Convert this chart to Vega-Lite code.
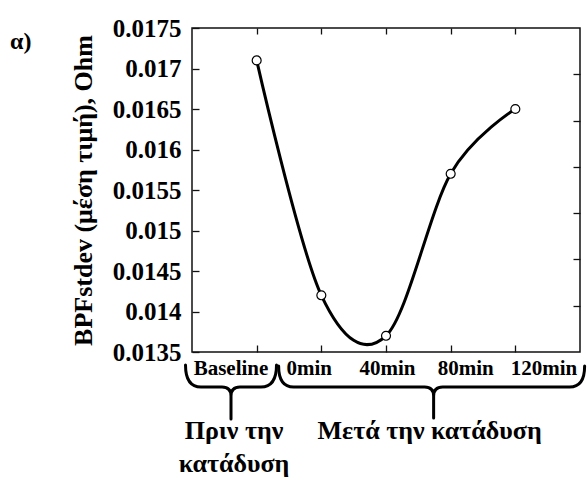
{
  "$schema": "https://vega.github.io/schema/vega-lite/v6.json",
  "width": 388,
  "height": 324,
  "autosize": {"type": "none"},
  "padding": {"left": 192, "top": 28, "right": 7, "bottom": 127},
  "background": "white",
  "title": {"text": "α)", "anchor": "start", "frame": "group", "orient": "top", "dx": -182, "dy": 42, "font": "Liberation Serif", "fontSize": 24, "fontWeight": "bold", "color": "black"},
  "config": {"view": {"stroke": "#111", "strokeWidth": 1.5}, "font": "Liberation Serif"},
  "data": {"values": [
    {"time": "Baseline", "idx": 1, "value": 0.0171, "phase": "Πριν την\nκατάδυση"},
    {"time": "0min", "idx": 2, "value": 0.0142, "phase": "Μετά την κατάδυση"},
    {"time": "40min", "idx": 3, "value": 0.0137, "phase": "Μετά την κατάδυση"},
    {"time": "80min", "idx": 4, "value": 0.0157, "phase": "Μετά την κατάδυση"},
    {"time": "120min", "idx": 5, "value": 0.0165, "phase": "Μετά την κατάδυση"}
  ]},
  "resolve": {"scale": {"x": "independent"}, "axis": {"x": "independent", "y": "independent"}},
  "layer": [
    {
      "mark": {"type": "line", "interpolate": "cardinal", "color": "black", "strokeWidth": 3},
      "encoding": {
        "x": {"field": "idx", "type": "quantitative", "scale": {"domain": [0, 6], "nice": false, "zero": false},
          "axis": {"orient": "bottom", "values": [1, 2, 3, 4, 5], "labels": false, "domain": false, "grid": false, "tickSize": -7, "tickColor": "#111", "tickWidth": 1.3, "title": null}},
        "y": {"field": "value", "type": "quantitative", "scale": {"domain": [0.0135, 0.0175], "nice": false, "zero": false},
          "axis": {"orient": "left", "values": [0.0135, 0.014, 0.0145, 0.015, 0.0155, 0.016, 0.0165, 0.017, 0.0175], "format": "~g",
            "labelFont": "Liberation Serif", "labelFontWeight": "bold", "labelFontSize": 25, "labelColor": "black", "labelPadding": 18,
            "tickSize": -7, "tickColor": "#111", "tickWidth": 1.3, "domain": false, "grid": false,
            "title": "BPFstdev (μέση τιμή), Ohm", "titleFont": "Liberation Serif", "titleFontSize": 26, "titleFontWeight": "bold", "titleColor": "black", "titlePadding": 16}}
      }
    },
    {
      "mark": {"type": "point", "filled": true, "fill": "white", "stroke": "black", "strokeWidth": 1.2, "size": 80, "opacity": 1},
      "encoding": {
        "x": {"field": "idx", "type": "quantitative", "scale": {"domain": [0, 6], "nice": false, "zero": false},
          "axis": {"orient": "top", "values": [1, 2, 3, 4, 5], "labels": false, "domain": false, "grid": false, "tickSize": -6, "tickColor": "#111", "tickWidth": 1.3, "title": null}},
        "y": {"field": "value", "type": "quantitative", "scale": {"domain": [0.0135, 0.0175], "nice": false, "zero": false},
          "axis": {"orient": "right", "values": [0.0169286, 0.0163571, 0.0157857, 0.0152143, 0.0146429, 0.0140714], "labels": false, "domain": false, "grid": false, "tickSize": -7, "tickColor": "#111", "tickWidth": 1.3, "title": null}}
      }
    },
    {
      "mark": {"type": "text", "font": "Liberation Serif", "fontWeight": "bold", "fontSize": 21, "baseline": "top", "align": "center", "dy": 6, "color": "black"},
      "encoding": {
        "x": {"field": "idx", "type": "quantitative", "scale": {"domain": [0.5016, 5.46], "nice": false, "zero": false}, "axis": null},
        "y": {"datum": 0.0135, "type": "quantitative", "scale": {"domain": [0.0135, 0.0175], "nice": false, "zero": false}, "axis": null},
        "text": {"field": "time"}
      }
    },
    {
      "mark": {"type": "point", "filled": false, "stroke": "black", "strokeWidth": 3, "size": 40000, "yOffset": 35, "opacity": 1, "strokeCap": "round", "strokeJoin": "round"},
      "encoding": {
        "x": {"aggregate": "mean", "field": "idx", "type": "quantitative", "scale": {"domain": [0.5016, 5.46], "nice": false, "zero": false}, "axis": null},
        "y": {"datum": 0.0135, "type": "quantitative", "scale": {"domain": [0.0135, 0.0175], "nice": false, "zero": false}, "axis": null},
        "shape": {"field": "phase", "type": "nominal", "legend": null,
          "scale": {"domain": ["Πριν την\nκατάδυση", "Μετά την κατάδυση"],
            "range": ["M -0.455 -0.22 Q -0.455 0 -0.3 0 L -0.09 0 Q 0 0 0 0.09 L 0 0.32 M 0 0.09 Q 0 0 0.09 0 L 0.3 0 Q 0.455 0 0.455 -0.22",
                      "M -1.48 -0.21 Q -1.48 0 -1.33 0 L -0.02 0 Q 0.07 0 0.07 0.09 L 0.07 0.31 M 0.07 0.09 Q 0.07 0 0.16 0 L 1.43 0 Q 1.58 0 1.58 -0.21"]}}
      }
    },
    {
      "mark": {"type": "text", "font": "Liberation Serif", "fontWeight": "bold", "fontSize": 26, "baseline": "top", "align": "center", "dy": 66, "dx": 3, "lineBreak": "\n", "lineHeight": 33, "color": "black"},
      "encoding": {
        "x": {"aggregate": "mean", "field": "idx", "type": "quantitative", "scale": {"domain": [0.5016, 5.46], "nice": false, "zero": false}, "axis": null},
        "y": {"datum": 0.0135, "type": "quantitative", "scale": {"domain": [0.0135, 0.0175], "nice": false, "zero": false}, "axis": null},
        "text": {"field": "phase"}
      }
    }
  ]
}
